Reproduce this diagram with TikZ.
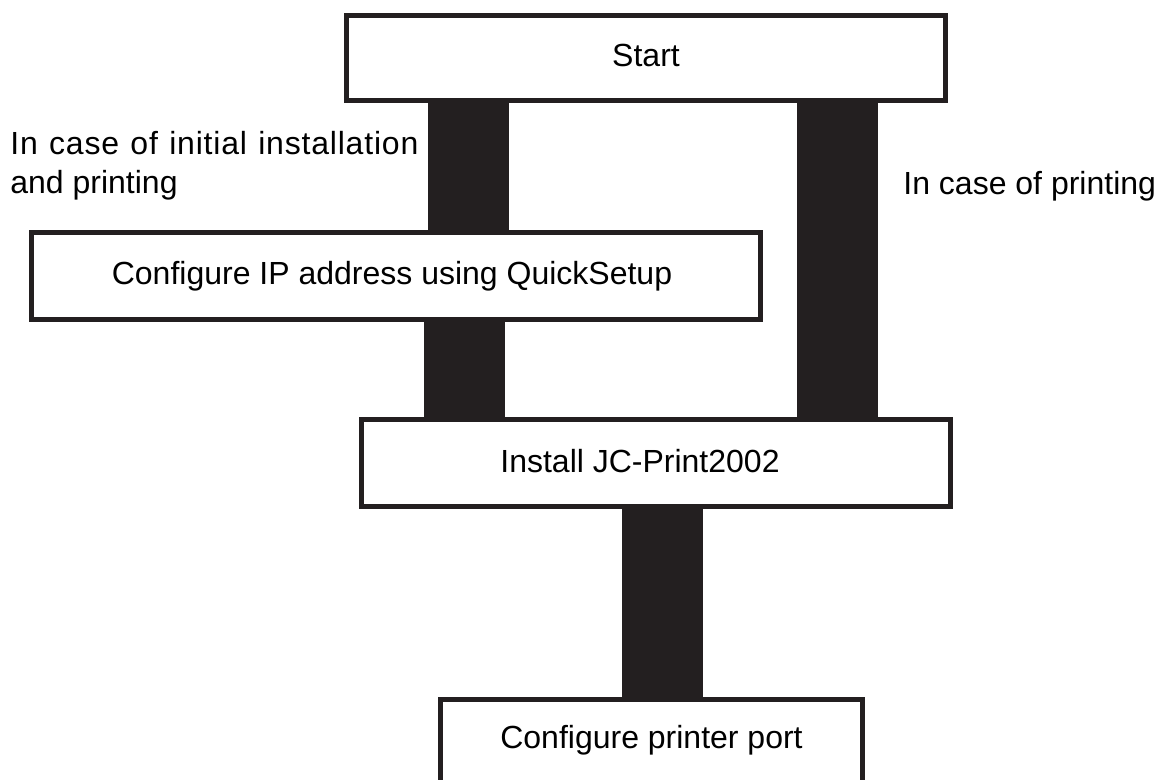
\documentclass[tikz,border=0pt]{standalone}
\usepackage{fontspec}
\setmainfont{Liberation Sans}
\definecolor{ink}{HTML}{231F20}
\begin{document}
\begin{tikzpicture}[x=0.5pt,y=-0.5pt]
        		\tikzstyle{box}=[rectangle,draw=ink,line width=2.5pt,fill=white,inner sep=0pt,text height=13pt,text depth=4pt,font=\fontsize{16}{19.5}\selectfont]
        		\tikzstyle{bar}=[draw=ink,line width=40.5pt]
        		\tikzstyle{note}=[inner sep=0pt,align=left,font=\fontsize{16}{19.5}\selectfont]
        		\clip (0,0) rectangle (1160,780);
        		\fill[white] (0,0) rectangle (1160,780);
       			\begin{scope}
         			\node [box,minimum width=299.5pt,minimum height=42.5pt] (start) at (646,58) {Start};
         			\node [box,minimum width=364.5pt,minimum height=43.5pt] (cfg) at (396,276) {Configure IP address using QuickSetup\hspace*{4pt}};
        			\node [box,minimum width=294.5pt,minimum height=43.5pt] (inst) at (656,463) {Install JC-Print2002\hspace*{16pt}};
        			\node [box,minimum width=211pt,minimum height=49pt,text height=8pt,text depth=8pt] (port) at (651.5,748.5) {Configure printer port};
        			\coordinate (axa) at (468,0);
        			\coordinate (axb) at (837.5,0);
        			\coordinate (axc) at (464,0);
        			\coordinate (axd) at (662,0);
        			\path[bar] (start.south -| axa) edge (cfg.north -| axa);
        			\path[bar] (start.south -| axb) edge (inst.north -| axb);
        			\path[bar] (cfg.south -| axc) edge (inst.north -| axc);
        			\path[bar] (inst.south -| axd) edge (port.north -| axd);
        			\node [note,anchor=base west] (initial) at (10,194) {\makebox[204pt][s]{\addfontfeature{LetterSpace=2.5}In case of initial installation}\\and printing};
        			\node [note,anchor=base west] (printing) at (903,195) {In case of printing};
        		\end{scope}
      		\end{tikzpicture}
\end{document}
